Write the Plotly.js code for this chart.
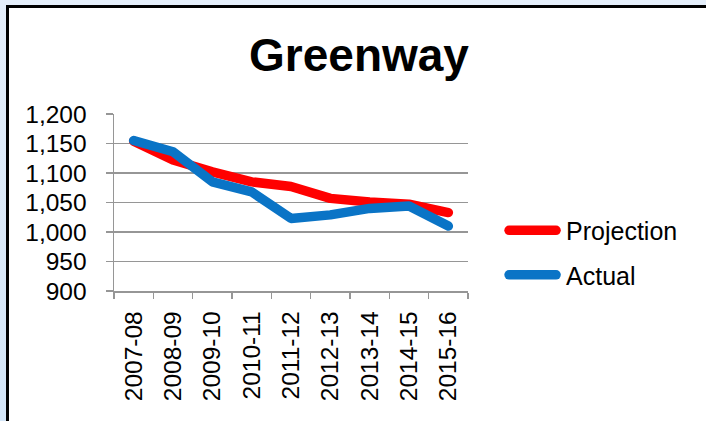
<!DOCTYPE html>
<html>
<head>
<meta charset="utf-8">
<script src="https://cdn.plot.ly/plotly-3.0.1.min.js"></script>
<style>
  html, body { margin: 0; padding: 0; width: 706px; height: 421px; overflow: hidden;
    background: linear-gradient(to bottom, #e4eefa 0%, #d3e5f7 100%); }
  #frame { position: absolute; left: 6px; top: 5px; width: 760px; height: 480px;
    background: #ffffff; border-left: 3px solid #000; border-top: 3px solid #000; }
  #chart { position: absolute; left: 0; top: 0; width: 706px; height: 421px; }
  #chart path.js-line, #chart .legendlines path { stroke-linecap: round !important; stroke-linejoin: round !important; }
</style>
</head>
<body>
<div id="frame"></div>
<div id="chart"></div>
<script>
const categories = ["2007-08","2008-09","2009-10","2010-11","2011-12","2012-13","2013-14","2014-15","2015-16"];
const projection = [1154, 1122, 1102, 1085, 1077, 1057, 1051, 1047, 1033];
const actual     = [1155, 1136, 1085, 1068, 1023, 1029, 1040, 1044, 1010];
const seriesNames = ["Projection", "Actual"];
const seriesColors = ["#ff0000", "#0a74c6"];
const yTicks = [900, 950, 1000, 1050, 1100, 1150, 1200];

const font = "Arial, 'Liberation Sans', sans-serif";
const traces = [projection, actual].map((vals, i) => ({
  type: "scatter", mode: "lines", x: categories, y: vals, name: seriesNames[i],
  legendgroup: "g" + i,
  line: { color: seriesColors[i], width: 9.5 }
}));

const axisGray = "#969696";
const layout = {
  width: 706, height: 421,
  paper_bgcolor: "rgba(0,0,0,0)", plot_bgcolor: "rgba(0,0,0,0)",
  margin: { l: 114, r: 238, t: 114, b: 130 },
  font: { family: font, color: "#000", size: 24.5 },
  title: { text: "<b>Greenway</b>", font: { family: font, size: 46, color: "#000" },
    x: 359 / 706, xanchor: "center", xref: "container",
    y: 1 - 55 / 421, yanchor: "middle", yref: "container" },
  xaxis: {
    type: "category", range: [-0.5, categories.length - 0.5],
    tickangle: -90, tickson: "boundaries",
    ticks: "outside", ticklen: 6, tickwidth: 1.5, tickcolor: axisGray,
    showline: true, linecolor: axisGray, linewidth: 1.5,
    showgrid: false, tickfont: { family: font, size: 24.5 },
    ticklabelstandoff: 9
  },
  yaxis: {
    range: [900, 1200], tickvals: yTicks, tickformat: ",d",
    ticks: "outside", ticklen: 7, tickwidth: 1.5, tickcolor: axisGray,
    showline: true, linecolor: axisGray, linewidth: 1.5,
    showgrid: true, gridcolor: axisGray, gridwidth: 1.5, zeroline: false,
    tickfont: { family: font, size: 24.5 }, ticklabelstandoff: 14
  },
  showlegend: true,
  legend: { x: 1.0934, xanchor: "left", y: 0.217, yanchor: "middle",
    itemwidth: 55,
    font: { family: font, size: 25 }, tracegroupgap: 9,
    bgcolor: "rgba(0,0,0,0)", borderwidth: 0 }
};

Plotly.newPlot("chart", traces, layout, { displayModeBar: false, staticPlot: true }).then(gd => {
  // lengthen legend line samples to match the reference's longer swatches
  gd.querySelectorAll(".legendlines path").forEach(p => p.setAttribute("d", "M8,0h47"));
});
</script>
</body>
</html>
